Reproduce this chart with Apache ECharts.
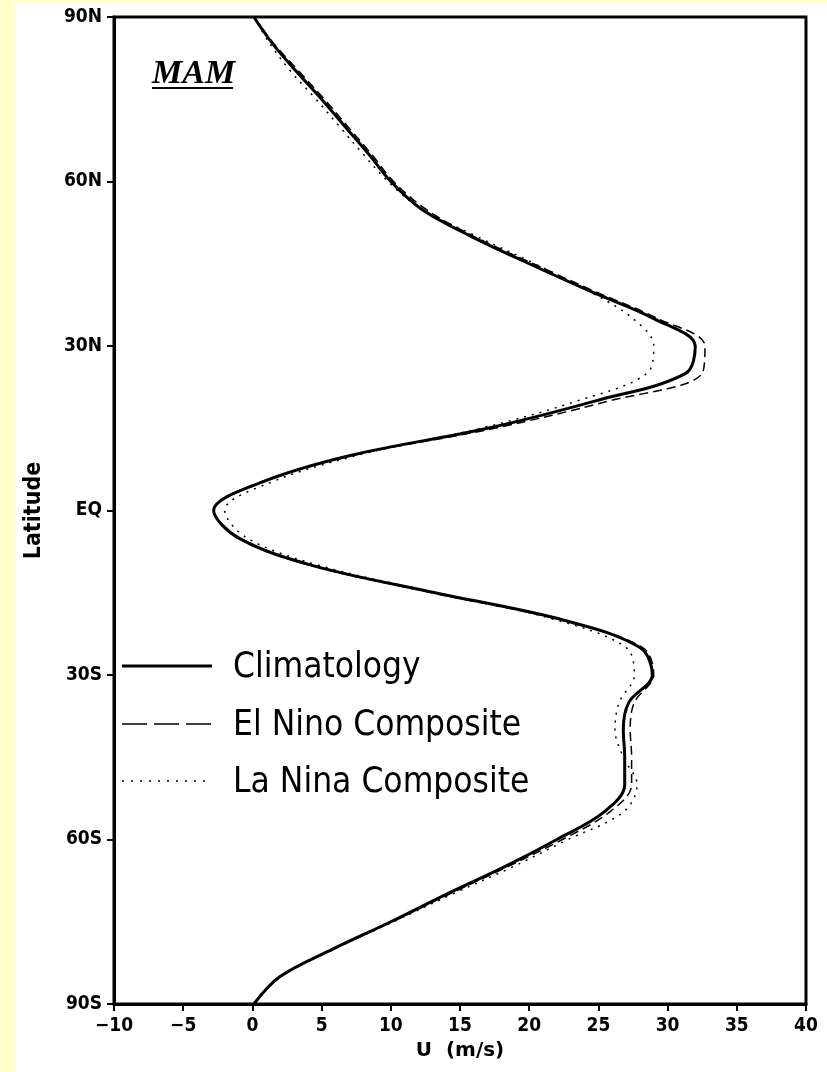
<!DOCTYPE html>
<html>
<head>
<meta charset="utf-8">
<script src="https://cdn.jsdelivr.net/npm/echarts@6/dist/echarts.min.js"></script>
<style>
  html, body { margin: 0; padding: 0; background: #ffffcc; width: 827px; height: 1072px; overflow: hidden; }
  #chart { position: absolute; left: 15px; top: 3px; width: 812px; height: 1069px; background: #ffffff; }
</style>
</head>
<body>
<div id="chart"></div>
<script>
// Zonal-mean zonal wind U (m/s) by latitude, March-April-May
const latitudes = [90, 85, 80, 75, 70, 65, 60, 55, 50, 45, 40, 35, 30, 25, 20, 15, 10, 5, 0,
  -5, -10, -15, -20, -25, -30, -35, -40, -45, -50, -55, -60, -65, -70, -75, -80, -85, -90];

const climatology = [0.1, 1.5, 3.2, 5.0, 6.7, 8.4, 10.0, 12.2, 15.8, 20.0, 24.4, 29.0, 32.0, 31.3, 24.8, 17.0, 7.0, 0.5, -2.8,
  -1.0, 4.3, 13.2, 22.5, 28.0, 28.9, 27.2, 26.8, 26.9, 26.9, 25.4, 22.0, 18.2, 14.0, 10.0, 5.8, 2.0, 0.1];

const elNino = [0.1, 1.6, 3.4, 5.2, 6.9, 8.6, 10.2, 12.5, 16.0, 20.3, 24.7, 29.3, 32.7, 32.5, 25.8, 17.5, 7.2, 0.4, -2.8,
  -1.1, 4.2, 13.0, 22.3, 28.2, 29.0, 27.6, 27.3, 27.4, 27.4, 25.8, 22.4, 18.4, 14.2, 10.1, 5.9, 2.0, 0.1];

const laNina = [0.1, 1.3, 2.8, 4.6, 6.3, 8.0, 9.8, 12.2, 16.2, 20.4, 24.3, 27.5, 29.0, 28.5, 23.5, 16.5, 7.5, 1.2, -2.0,
  -0.4, 4.8, 13.3, 22.0, 27.0, 27.6, 26.5, 26.2, 26.8, 27.8, 26.8, 22.8, 18.8, 14.4, 10.2, 5.9, 2.0, 0.1];

const latTickValues = [-90, -60, -30, 0, 30, 60, 90];
const latTickLabels = ['90S', '60S', '30S', 'EQ', '30N', '60N', '90N'];
const seriesNames = ['Climatology', 'El Nino Composite', 'La Nina Composite'];
const seasonLabel = 'MAM';

const pairs = (vals) => vals.map((u, i) => [u, latitudes[i]]);

const tickFont = {
  color: '#000', fontFamily: 'DejaVu Sans Condensed, DejaVu Sans', fontWeight: 'bold', fontSize: 19
};

const chart = echarts.init(document.getElementById('chart'), null, { renderer: 'canvas' });

const legendFont = '35px "DejaVu Sans Condensed", "DejaVu Sans", sans-serif';
const legendRows = [
  { y: 663, dash: null, width: 3 },
  { y: 721, dash: [25, 7], width: 1.5 },
  { y: 778, dash: [2, 7], width: 1.5 }
];

const graphics = [];
legendRows.forEach((row, i) => {
  graphics.push({
    type: 'line', shape: { x1: 107, y1: row.y, x2: 197, y2: row.y },
    style: { stroke: '#000', lineWidth: row.width, lineDash: row.dash }
  });
  graphics.push({
    type: 'text', x: 218, y: row.y + 2,
    style: { text: seriesNames[i], font: legendFont, fill: '#000', textVerticalAlign: 'middle' }
  });
});
graphics.push({
  type: 'text', x: 137, y: 71,
  style: { text: seasonLabel, font: 'italic bold 34px "Liberation Serif", serif', fill: '#000', textVerticalAlign: 'middle' }
});
graphics.push({
  type: 'line', shape: { x1: 137, y1: 85, x2: 218, y2: 85 },
  style: { stroke: '#000', lineWidth: 2 }
});

chart.setOption({
  animation: false,
  backgroundColor: '#ffffff',
  grid: {
    left: 96, top: 14, right: 21, bottom: 68,
    show: true, borderColor: '#000', borderWidth: 3, backgroundColor: '#fff'
  },
  xAxis: {
    type: 'value', min: -10, max: 40, interval: 5,
    name: 'U  (m/s)', nameLocation: 'middle', nameGap: 36,
    nameTextStyle: { color: '#000', fontFamily: 'DejaVu Sans', fontWeight: 'bold', fontSize: 20 },
    axisLine: { show: true, onZero: false, lineStyle: { color: '#000', width: 3 } },
    axisTick: { show: true, length: 7, lineStyle: { color: '#000', width: 2 } },
    axisLabel: Object.assign({ margin: 13, formatter: v => (v < 0 ? '\u2212' + (-v) : String(v)) }, tickFont),
    splitLine: { show: false }
  },
  yAxis: {
    type: 'value', min: -90, max: 90, interval: 30,
    name: 'Latitude', nameLocation: 'middle', nameGap: 68,
    nameTextStyle: { color: '#000', fontFamily: 'DejaVu Sans Condensed, DejaVu Sans', fontWeight: 'bold', fontSize: 23 },
    axisLine: { show: true, onZero: false, lineStyle: { color: '#000', width: 3 } },
    axisTick: { show: true, length: 7, lineStyle: { color: '#000', width: 2 } },
    axisLabel: Object.assign({
      margin: 12,
      formatter: v => latTickLabels[latTickValues.indexOf(v)]
    }, tickFont),
    splitLine: { show: false }
  },
  series: [
    {
      name: seriesNames[0], type: 'line', data: pairs(climatology), showSymbol: false, symbol: 'none',
      smooth: 0.35, lineStyle: { color: '#000', width: 3 }, z: 3
    },
    {
      name: seriesNames[1], type: 'line', data: pairs(elNino), showSymbol: false, symbol: 'none',
      smooth: 0.35, lineStyle: { color: '#000', width: 1.5, type: [9, 5] }, z: 2
    },
    {
      name: seriesNames[2], type: 'line', data: pairs(laNina), showSymbol: false, symbol: 'none',
      smooth: 0.35, lineStyle: { color: '#000', width: 1.5, type: [2, 6] }, z: 2
    }
  ],
  graphic: graphics
});
</script>
</body>
</html>
